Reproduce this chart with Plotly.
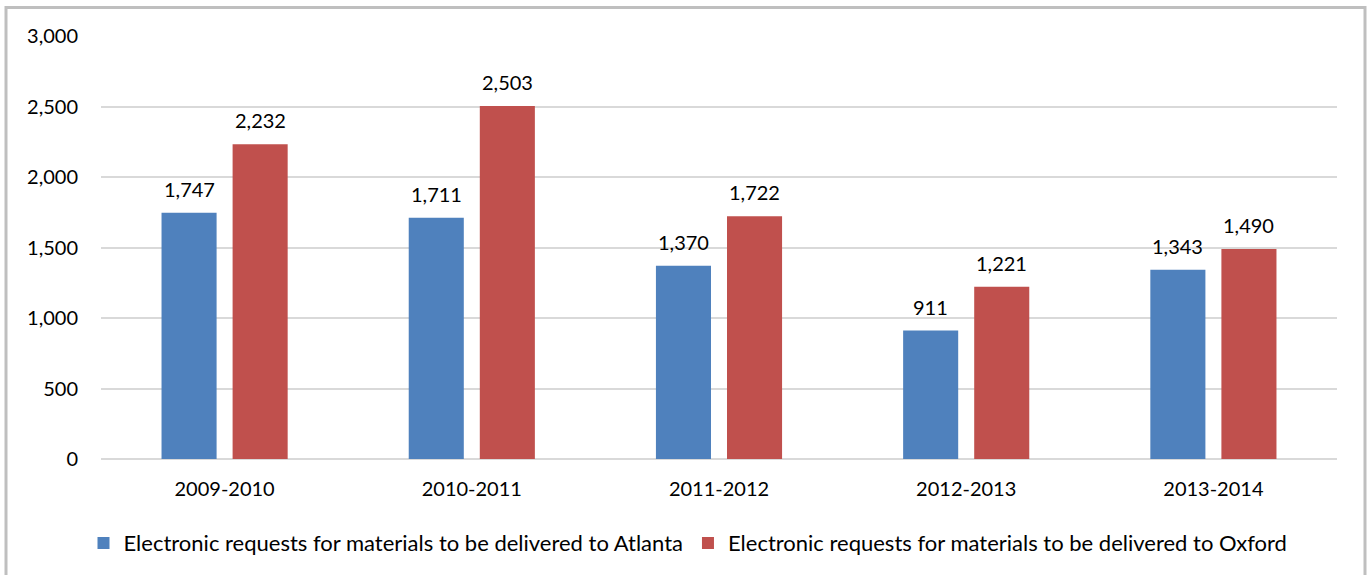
import plotly.graph_objects as go

# Academic years and request counts for each delivery location
years = ["2009-2010", "2010-2011", "2011-2012", "2012-2013", "2013-2014"]
atlanta = [1747, 1711, 1370, 911, 1343]
oxford = [2232, 2503, 1722, 1221, 1490]
series_names = [
    "Electronic requests for materials to be delivered to Atlanta",
    "Electronic requests for materials to be delivered to Oxford",
]
y_ticks = [0, 500, 1000, 1500, 2000, 2500, 3000]

BLUE = "#4F81BD"
RED = "#C0504D"
FONT = "Lato"
BARGAP = 0.425
GROUPGAP = 0.225

xs = list(range(len(years)))

fig = go.Figure()
fig.add_trace(go.Bar(x=xs, y=atlanta, name=series_names[0], marker_color=BLUE,
                     marker_line_width=0))
fig.add_trace(go.Bar(x=xs, y=oxford, name=series_names[1], marker_color=RED,
                     marker_line_width=0))

# value labels above each bar, centred on the bar within its group
half = (1 - BARGAP) / 4
for vals, off in ((atlanta, -half), (oxford, half)):
    for x, v in zip(xs, vals):
        fig.add_annotation(x=x + off, y=v, text=f"{v:,}", showarrow=False,
                           yanchor="bottom", yshift=10,
                           font=dict(family=FONT, size=20, color="#000000"))

# outer chart border
fig.add_shape(type="rect", xref="paper", yref="paper",
              x0=(6 - 101) / 1236, x1=(1365 - 101) / 1236,
              y0=(460 - 590) / 424, y1=(460 - 7.5) / 424,
              line=dict(color="#BFBFBF", width=3), fillcolor="rgba(0,0,0,0)",
              layer="below")

fig.update_layout(
    width=1368, height=575,
    margin=dict(l=101, r=31, t=36, b=115),
    paper_bgcolor="white", plot_bgcolor="white",
    barmode="group", bargap=BARGAP, bargroupgap=GROUPGAP,
    font=dict(family=FONT, size=20, color="#000000"),
    showlegend=True,
    legend=dict(orientation="h", x=(688 - 101) / 1236, xanchor="center", y=-0.196,
                yanchor="middle", font=dict(family=FONT, size=22, color="#000000"),
                itemsizing="constant", traceorder="normal"),
    xaxis=dict(tickmode="array", tickvals=xs, ticktext=years,
               range=[-0.5, len(years) - 0.5], showgrid=False, showline=False,
               zeroline=False, ticks="", ticklabelstandoff=16),
    yaxis=dict(range=[0, 3000], tickmode="array", tickvals=y_ticks,
               tickformat=",", showgrid=True, gridcolor="#D9D9D9", gridwidth=1.5,
               zeroline=True, zerolinecolor="#D9D9D9", zerolinewidth=1.5,
               showline=False, ticks="", ticklabelstandoff=22),
)

fig.write_html("out.html")
